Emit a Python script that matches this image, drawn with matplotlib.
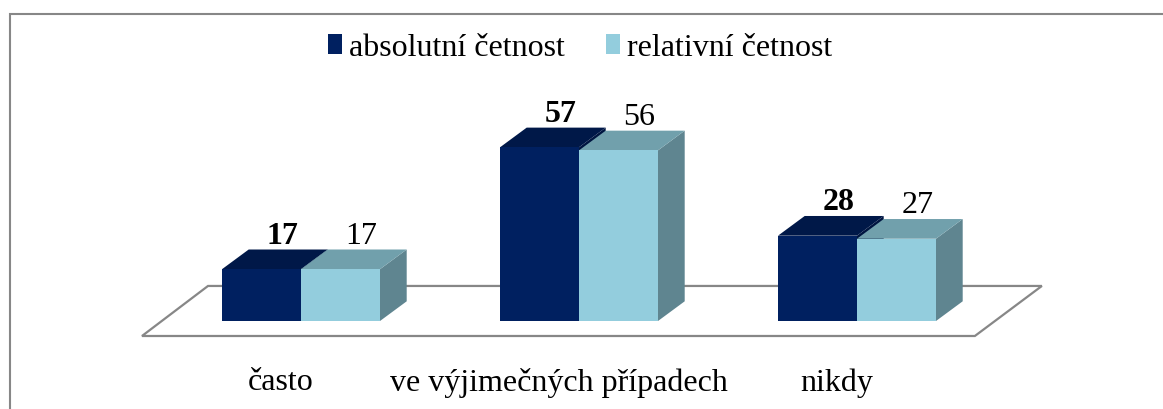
import matplotlib
matplotlib.use("Agg")
import matplotlib.pyplot as plt
from matplotlib.patches import Polygon, Patch, Rectangle
import numpy as np

categories = ["často", "ve výjimečných případech", "nikdy"]
series_names = ["absolutní četnost", "relativní četnost"]
absolutni = [17, 57, 28]
relativni = [17, 56, 27]

FRONT = ["#002060", "#93CDDD"]
TOP = ["#001848", "#71A0AC"]
SIDE = ["#001540", "#5F8590"]
EDGE = "#878787"

W, H = 1163, 410
fig = plt.figure(figsize=(W / 100, H / 100), dpi=100)
ax = fig.add_axes([0, 0, 1, 1])
ax.set_axis_off()

px_per_x = 278.0
px_per_y = 3.047
x0_px = 301.0
y0_px = 88.0
ax.set_xlim(-x0_px / px_per_x, (W - x0_px) / px_per_x)
ax.set_ylim(-y0_px / px_per_y, (H - y0_px) / px_per_y)

bw = 79 / px_per_x
ddx = 26.7 / px_per_x
ddy = 19.7 / px_per_y

fp = "Liberation Serif"
fs = 23

# floor parallelogram
fl = [(-0.572, -4.92), (2.424, -4.92), (2.665, 11.5), (-0.3345, 11.5)]
ax.add_patch(Polygon(fl, closed=True, facecolor="white", edgecolor=EDGE, lw=1.6, zorder=1))

x = np.arange(len(categories))
for si, vals in enumerate([absolutni, relativni]):
    lefts = x - bw + si * bw
    ax.bar(lefts, vals, width=bw, align="edge", color=FRONT[si], zorder=3 + si * 2)
    for l, v in zip(lefts, vals):
        r = l + bw
        top = [(l, v), (r, v), (r + ddx, v + ddy), (l + ddx, v + ddy)]
        side = [(r, 0), (r + ddx, ddy), (r + ddx, v + ddy), (r, v)]
        ax.add_patch(Polygon(side, closed=True, facecolor=SIDE[si], lw=0, zorder=2 + si * 2))
        ax.add_patch(Polygon(top, closed=True, facecolor=TOP[si], lw=0, zorder=2 + si * 2))
        ax.text(l + bw / 2 + 21 / px_per_x, v + ddy + 7 / px_per_y, str(v),
                ha="center", va="baseline", fontsize=fs, family=fp,
                fontweight="bold" if si == 0 else "normal", color="black", zorder=10)

for xi, c in zip(x, categories):
    ax.text(xi - 20.5 / px_per_x, (27 - y0_px) / px_per_y, c, ha="center", va="center",
            fontsize=fs, family=fp, color="black")

# outer border
fig.patches.append(Rectangle((10 / W, -0.1), 1.2, (H - 15) / H + 0.1, transform=fig.transFigure,
                             fill=False, edgecolor=EDGE, lw=1.5))

handles = [Patch(facecolor=FRONT[0]), Patch(facecolor=FRONT[1])]
fig.legend(handles, series_names, loc="center", bbox_to_anchor=(580 / W, 1 - 49 / H), ncol=2,
           frameon=False, prop={"family": fp, "size": fs}, handlelength=0.45, handleheight=0.6,
           handletextpad=0.2, columnspacing=1.3, borderpad=0)

fig.savefig("out.png", dpi=100)
